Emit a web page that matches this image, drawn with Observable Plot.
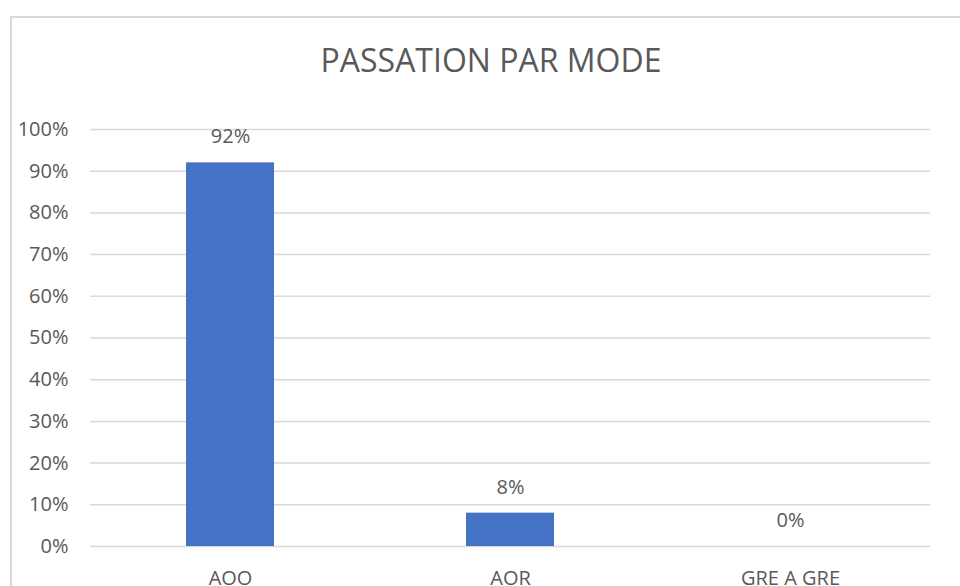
<!DOCTYPE html>
<html><head><meta charset="utf-8">
<script src="https://cdn.jsdelivr.net/npm/d3@7"></script>
<script src="https://cdn.jsdelivr.net/npm/@observablehq/plot@0.6"></script>
<style>
html,body{margin:0;padding:0;background:#fff;overflow:hidden;width:960px;height:586px}
#frame{position:absolute;left:10px;top:16px;width:1000px;height:700px;border-left:2px solid #d9d9d9;border-top:2px solid #d9d9d9;box-sizing:border-box}
#title{position:absolute;left:0;top:0;width:982px;height:100px;font-family:"Open Sans";font-size:32px;line-height:120px;text-align:center;color:#595959;white-space:nowrap}
#chart{position:absolute;left:0;top:100px}
</style></head><body>
<div id="frame"></div>
<div id="title">PASSATION PAR MODE</div>
<div id="chart"></div>
<script>
const categories = ["AOO", "AOR", "GRE A GRE"];
const values = [0.92, 0.08, 0];
const yTicks = [0, 0.1, 0.2, 0.3, 0.4, 0.5, 0.6, 0.7, 0.8, 0.9, 1];

const data = categories.map((c, i) => ({mode: c, share: values[i]}));
const pct = d3.format(".0%");

const chart = Plot.plot({
  width: 960, height: 486,
  marginLeft: 90, marginRight: 30, marginTop: 29, marginBottom: 40,
  style: {fontFamily: "Open Sans", fontSize: "20px", color: "#595959", background: "transparent"},
  x: {domain: categories, paddingInner: 0.686, paddingOuter: 0.343, label: null, tickSize: 0, tickPadding: 24},
  y: {domain: [0, 1], ticks: yTicks, tickFormat: pct, label: null, tickSize: 0, tickPadding: 22},
  marks: [
    Plot.gridY(yTicks, {stroke: "#d9d9d9", strokeOpacity: 1, strokeWidth: 1.5}),
    Plot.barY(data, {x: "mode", y: "share", fill: "#4472C4"}),
    Plot.text(data, {x: "mode", y: "share", text: d => pct(d.share), dy: -26, fill: "#595959", fontSize: 20})
  ]
});
document.getElementById("chart").appendChild(chart);
</script>
</body></html>
